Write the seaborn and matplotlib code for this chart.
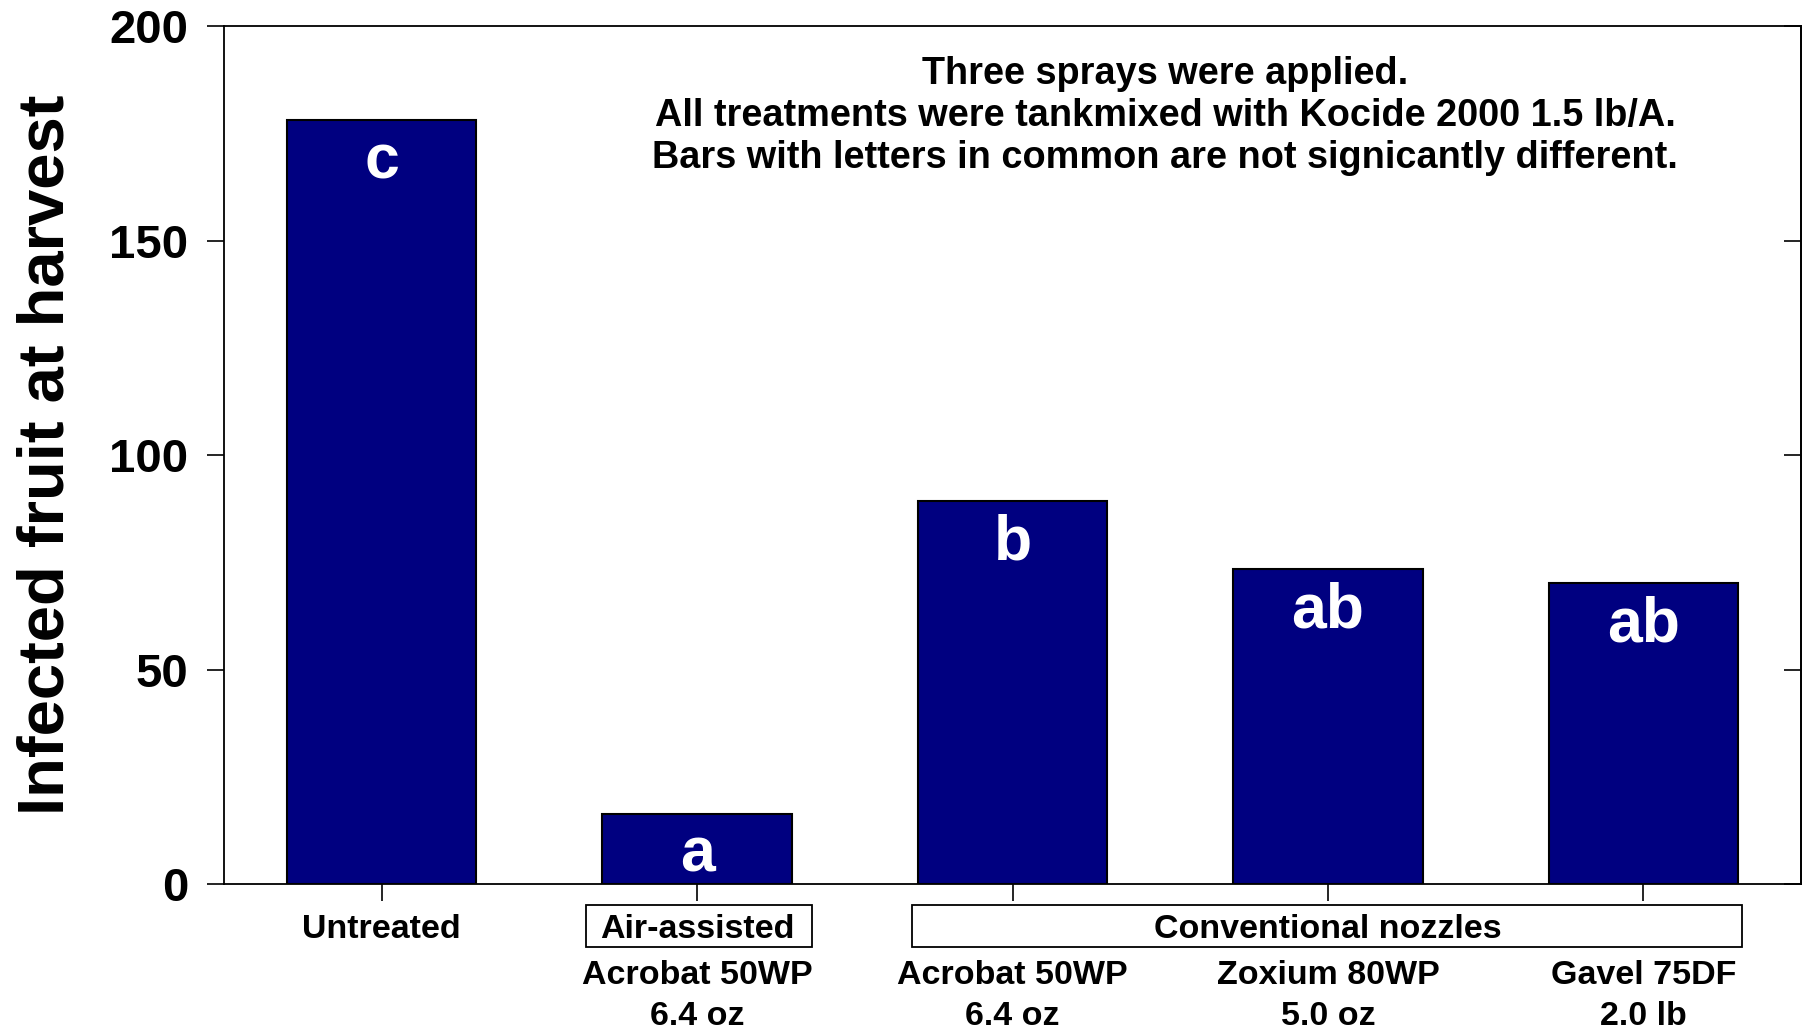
import matplotlib
matplotlib.use("Agg")
import matplotlib.pyplot as plt
import matplotlib.transforms as mtransforms
from matplotlib.patches import Rectangle
import seaborn as sns
import pandas as pd

# ---- data ----
methods = ["", "Air-assisted", "Conventional nozzles", "Conventional nozzles", "Conventional nozzles"]
products = ["Untreated", "Acrobat 50WP", "Acrobat 50WP", "Zoxium 80WP", "Gavel 75DF"]
rates = ["", "6.4 oz", "6.4 oz", "5.0 oz", "2.0 lb"]
infected = [178.0, 16.4, 89.3, 73.4, 70.1]
letters = ["c", "a", "b", "ab", "ab"]
y_ticks = [0, 50, 100, 150, 200]
y_label = "Infected fruit at harvest"
note_lines = ["Three sprays were applied.",
              "All treatments were tankmixed with Kocide 2000 1.5 lb/A.",
              "Bars with letters in common are not signicantly different."]

keys = [f"{m} {p} {r}".strip() for m, p, r in zip(methods, products, rates)]
df = pd.DataFrame({"treatment": keys, "infected": infected})

sns.set_style("white")
plt.rcParams["font.family"] = ["Liberation Sans", "DejaVu Sans"]
plt.rcParams["font.weight"] = "bold"
for k in ["text.color", "axes.labelcolor", "xtick.color", "ytick.color", "axes.edgecolor"]:
    plt.rcParams[k] = "black"

fig = plt.figure(figsize=(18.05, 10.29), dpi=100)
ax = fig.add_axes([0.1241, 0.1409, 0.8737, 0.8338])

sns.barplot(data=df, x="treatment", y="infected", order=keys, color="#000080",
            saturation=1, edgecolor="black", linewidth=1.5, width=0.6, ax=ax)

ax.set_xlim(-0.5, 4.5)
ax.set_ylim(0, 200)
ax.set_yticks(y_ticks)
ax.set_yticklabels([str(t) for t in y_ticks], fontsize=34, fontweight="bold")
ax.set_ylabel(y_label, fontsize=47, fontweight="bold", labelpad=24)
ax.set_xlabel("")
ax.set_xticks(range(len(keys)))
ax.set_xticklabels([""] * len(keys))

for s in ax.spines.values():
    s.set_visible(True)
    s.set_color("black")
    s.set_linewidth(1.3)

ax.tick_params(axis="y", direction="out", length=12.5, width=1.2, color="black", pad=13, left=True)
ax.tick_params(axis="x", direction="out", length=12.5, width=1.2, color="black", bottom=True)

sec = ax.secondary_yaxis("right")
sec.set_yticks(y_ticks)
sec.tick_params(direction="in", length=12.5, width=1.2, labelright=False)
sec.spines["right"].set_linewidth(1.3)

# letters inside bars
for i, (v, lt) in enumerate(zip(infected, letters)):
    ax.annotate(lt, xy=(i, v), xytext=(0, -30), textcoords="offset points",
                ha="center", va="center", color="white", fontsize=45, fontweight="bold")

trans = mtransforms.blended_transform_factory(ax.transData, ax.transAxes)

# note
ax.text(2.484, 0.8955, "\n".join(note_lines), transform=trans, ha="center", va="center",
        multialignment="center", fontsize=27.3, fontweight="bold", linespacing=1.22)

# x labels rows
row1, row2, row3 = -0.053, -0.107, -0.154
fs_x = 24.5
ax.text(0, row1, products[0], transform=trans, ha="center", va="center",
        fontsize=fs_x, fontweight="bold", clip_on=False)
for i in range(1, len(keys)):
    ax.text(i, row2, products[i], transform=trans, ha="center", va="center",
            fontsize=fs_x, fontweight="bold", clip_on=False)
    ax.text(i, row3, rates[i], transform=trans, ha="center", va="center",
            fontsize=fs_x, fontweight="bold", clip_on=False)

# method boxes
groups = {}
for i, m in enumerate(methods):
    if m:
        groups.setdefault(m, []).append(i)
box_bottom, box_top = -0.0734, -0.0245
for m, idx in groups.items():
    if len(idx) == 1:
        x0, x1 = idx[0] - 0.352, idx[0] + 0.365
    else:
        x0, x1 = idx[0] - 0.318, idx[-1] + 0.312
    rect = Rectangle((x0, box_bottom), x1 - x0, box_top - box_bottom, transform=trans,
                     fill=False, edgecolor="black", linewidth=1.3, clip_on=False)
    ax.add_patch(rect)
    ax.text((idx[0] + idx[-1]) / 2, row1, m, transform=trans, ha="center", va="center",
            fontsize=fs_x, fontweight="bold", clip_on=False)

fig.savefig("out.png", dpi=100)
